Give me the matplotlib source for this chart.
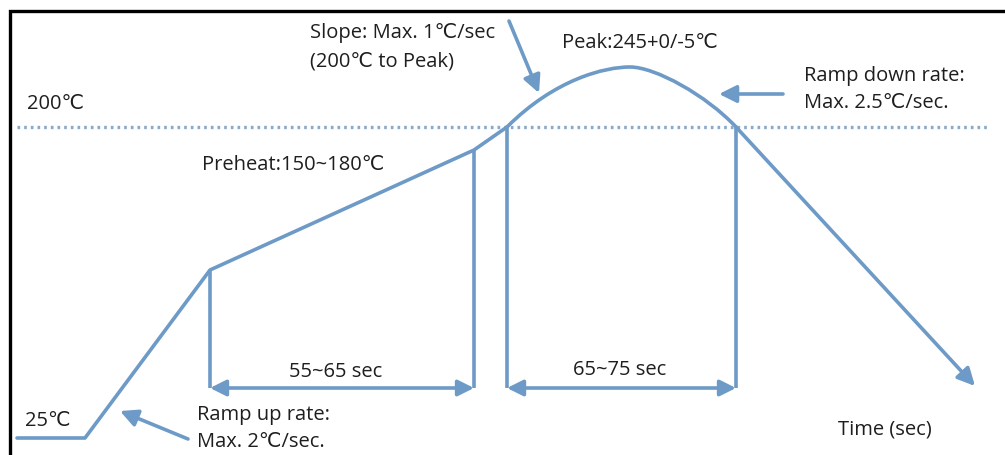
import matplotlib
matplotlib.use("Agg")
import matplotlib.pyplot as plt
from matplotlib.path import Path
from matplotlib.patches import PathPatch

plt.rcParams['font.family'] = ['Open Sans', 'DejaVu Sans', 'Noto Sans CJK SC']

# --- schematic reflow profile (diagram units: x = time axis, y = drawing height, top-down) ---
# straight segments before the peak zone
ramp_x = [17, 85, 210, 474, 507]
ramp_y = [439, 439, 271, 151, 128]
# peak zone as two cubic Bezier segments: start, ctrl1, ctrl2, end
peak_x = [507, 555, 605, 630, 655, 706, 736]
peak_y = [128, 80, 68, 68, 68, 96, 128]
# cooling segment ending in an arrow
cool_x = [736, 975]
cool_y = [128, 387]

level_200_y = 128
level_200_x = [17, 990]

preheat_x = [210, 474]
preheat_top = [271, 151]
reflow_x = [507, 736]
reflow_top = [128, 128]
span_y = 389

labels = [
    ("200℃", 27, 104),
    ("Slope: Max. 1℃/sec", 310, 33),
    ("(200℃ to Peak)", 310, 61),
    ("Peak:245+0/-5℃", 562, 43),
    ("Ramp down rate:", 804, 76),
    ("Max. 2.5℃/sec.", 804, 103),
    ("Preheat:150~180℃", 202, 165),
    ("25℃", 25, 421),
    ("Ramp up rate:", 197, 415),
    ("Max. 2℃/sec.", 197, 442),
    ("Time (sec)", 838, 430),
]
span_labels = [("55~65 sec", 336, 372), ("65~75 sec", 620, 370)]

pointer_arrows = [  # (tail, head)
    ((509, 22), (539, 94)),
    ((783, 95), (719, 95)),
    ((188, 440), (120, 412)),
]

blue = '#6d9ac6'
dot_blue = '#8aaacb'
text_color = '#1e1e1e'

fig = plt.figure(figsize=(10.05, 4.56), dpi=100)
ax = fig.add_axes([0, 0, 1, 1])
ax.set_xlim(0, 1005)
ax.set_ylim(456, 0)
ax.axis('off')

# frame (left and top only)
ax.plot([9.5, 9.5, 1005], [460, 11.5, 11.5], color='black', lw=2.4, solid_joinstyle='miter')

# 200 C dotted level
ax.plot(level_200_x, [level_200_y, level_200_y], color=dot_blue, lw=2.4,
        linestyle=(0, (0.8, 1.2)), dash_capstyle='butt')

# main profile line
ax.plot(ramp_x, ramp_y, color=blue, lw=2.6, solid_joinstyle='round', solid_capstyle='round')
verts = list(zip(peak_x, peak_y))
codes = [Path.MOVETO] + [Path.CURVE4] * 6
ax.add_patch(PathPatch(Path(verts, codes), facecolor='none', edgecolor=blue, lw=2.6,
                       joinstyle='round', capstyle='round'))
ax.annotate('', xy=(cool_x[1], cool_y[1]), xytext=(cool_x[0], cool_y[0]),
            arrowprops=dict(arrowstyle='-|>', color=blue, lw=2.6, mutation_scale=26,
                            shrinkA=0, shrinkB=0))

# vertical markers and span arrows
for xs, tops in ((preheat_x, preheat_top), (reflow_x, reflow_top)):
    for x, t in zip(xs, tops):
        ax.plot([x, x], [t, span_y], color=blue, lw=2.6, solid_capstyle='butt')
    ax.annotate('', xy=(xs[1], span_y), xytext=(xs[0], span_y),
                arrowprops=dict(arrowstyle='<|-|>', color=blue, lw=2.6, mutation_scale=24,
                                shrinkA=0, shrinkB=0))

for (tx, ty), (hx, hy) in pointer_arrows:
    ax.annotate('', xy=(hx, hy), xytext=(tx, ty),
                arrowprops=dict(arrowstyle='-|>', color=blue, lw=2.6, mutation_scale=26,
                                shrinkA=0, shrinkB=0))

fs = 14.5
for s, x, y in labels:
    ax.text(x, y, s, fontsize=fs, color=text_color, ha='left', va='center')
for s, x, y in span_labels:
    ax.text(x, y, s, fontsize=fs, color=text_color, ha='center', va='center')

fig.savefig('out.png', dpi=100, facecolor='white')
